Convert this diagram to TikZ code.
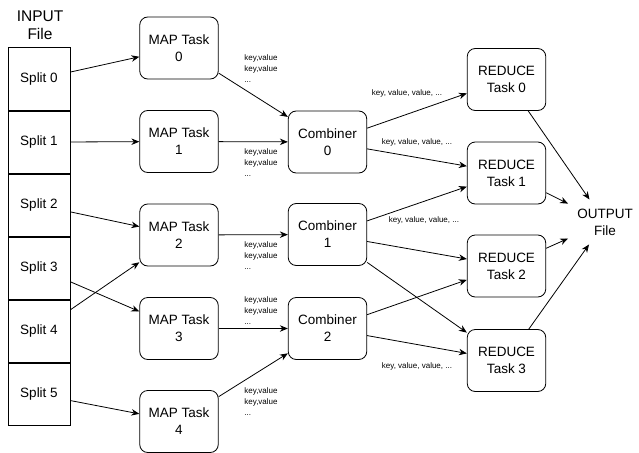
\documentclass[tikz,border=0pt]{standalone}
\usepackage{fontspec}
\setmainfont{Liberation Sans}
\usetikzlibrary{arrows.meta,positioning}

\begin{document}
\begin{tikzpicture}[
  x=1pt, y=-1pt,
  every node/.style={align=center, font=\fontsize{13.5}{17}\selectfont},
  part/.style={draw, minimum width=62pt, minimum height=62.3pt, inner sep=2pt, line width=0.8pt},
  task/.style={draw, rounded corners=8pt, minimum width=78.5pt, minimum height=62pt, inner sep=2pt, line width=0.8pt},
  kv/.style={font=\fontsize{8}{11}\selectfont, align=left, inner sep=0pt},
  kvv/.style={font=\fontsize{8}{10}\selectfont, inner sep=0pt},
  arr/.style={-{Stealth[length=8pt,width=6.5pt]}, line width=0.8pt},
]
\useasboundingbox (0,0) rectangle (639,452);

% input file and its splits
\node[font=\fontsize{15.5}{18}\selectfont] (input) at (40,25) {INPUT\\File};
\node[part] (split0) at (39,79) {Split 0};
\node[part, below=0pt of split0] (split1) {Split 1};
\node[part, below=0pt of split1] (split2) {Split 2};
\node[part, below=0pt of split2] (split3) {Split 3};
\node[part, below=0pt of split3] (split4) {Split 4};
\node[part, below=0pt of split4] (split5) {Split 5};

% map tasks
\node[task] (map0) at (179,48) {MAP Task\\0};
\node[task] (map1) at (179,141.5) {MAP Task\\1};
\node[task] (map2) at (179,235) {MAP Task\\2};
\node[task] (map3) at (179,328.5) {MAP Task\\3};
\node[task] (map4) at (179,421.5) {MAP Task\\4};

% combiners
\node[task] (comb0) at (327.5,142) {Combiner\\0};
\node[task] (comb1) at (327.5,234.5) {Combiner\\1};
\node[task] (comb2) at (327.5,328.5) {Combiner\\2};

% reduce tasks
\node[task] (red0) at (506.5,79.5) {REDUCE\\Task 0};
\node[task] (red1) at (506.5,173) {REDUCE\\Task 1};
\node[task] (red2) at (506.5,266) {REDUCE\\Task 2};
\node[task] (red3) at (506.5,360.5) {REDUCE\\Task 3};

\node[inner sep=9pt] (output) at (605,222) {OUTPUT\\File};

% intermediate pairs
\node[kv] (kv0) at (261,69) {key,value\\key,value\\...};
\node[kv] (kv1) at (261,163) {key,value\\key,value\\...};
\node[kv] (kv2) at (261,256) {key,value\\key,value\\...};
\node[kv] (kv3) at (261,311) {key,value\\key,value\\...};
\node[kv] (kv4) at (261,402) {key,value\\key,value\\...};
\node[kvv] (kvv0) at (407,93) {key, value, value, ...};
\node[kvv] (kvv1) at (417,142) {key, value, value, ...};
\node[kvv] (kvv2) at (424,220) {key, value, value, ...};
\node[kvv] (kvv3) at (417,366) {key, value, value, ...};

% splits to maps
\draw[arr] (split0) -- (map0);
\draw[arr] (split1) -- (map1);
\draw[arr] (split2) -- (map2);
\draw[arr] (split3) -- (map3);
\draw[arr] (split4) -- (map2);
\draw[arr] (split5) -- (map4);

% maps to combiners
\draw[arr] (map0) -- (comb0);
\draw[arr] (map1) -- (comb0);
\draw[arr] (map2) -- (comb1);
\draw[arr] (map3) -- (comb2);
\draw[arr] (map4) -- (comb2);

% combiners to reducers
\draw[arr] (comb0) -- (red0);
\draw[arr] (comb0) -- (red1);
\draw[arr] (comb1) -- (red1);
\draw[arr] (comb1) -- (red2);
\draw[arr] (comb1) -- (red3);
\draw[arr] (comb2) -- (red2);
\draw[arr] (comb2) -- (red3);

% reducers to output
\draw[arr] (red0) -- (output);
\draw[arr] (red1) -- (output);
\draw[arr] (red2) -- (output);
\draw[arr] (red3) -- (output);
\end{tikzpicture}
\end{document}
